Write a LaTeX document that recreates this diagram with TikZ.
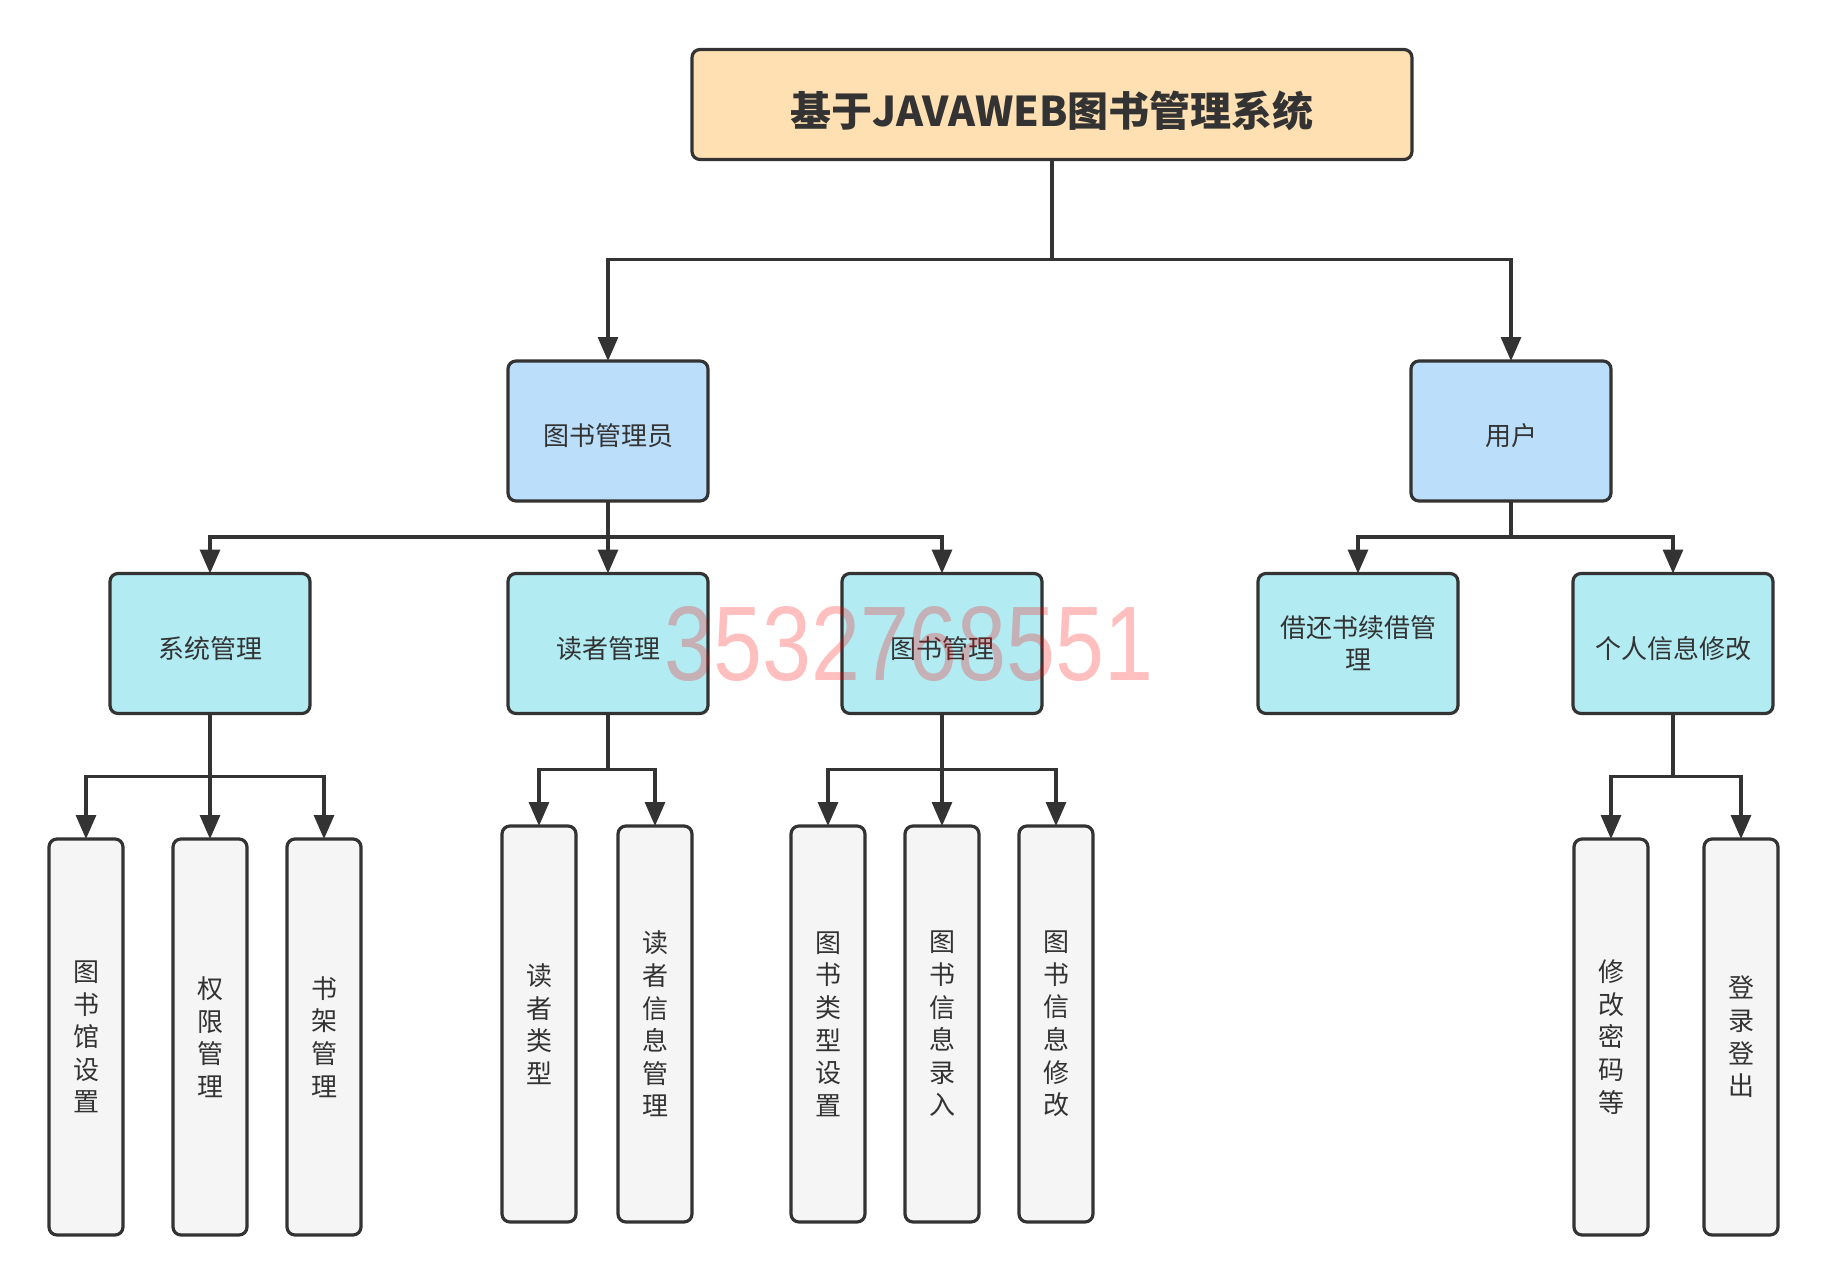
\documentclass[tikz,border=0pt]{standalone}
\usepackage{fontspec}
\usepackage{graphicx}
\setmainfont{Noto Sans CJK SC}
\newfontfamily\markfont{Liberation Sans}
\usetikzlibrary{arrows.meta, positioning}
\definecolor{InkDark}{HTML}{333333}
\definecolor{TitleSand}{HTML}{FFE0B2}
\definecolor{RoleBlue}{HTML}{BBDEFB}
\definecolor{ModCyan}{HTML}{B2EBF2}
\definecolor{LeafGray}{HTML}{F5F5F5}

\tikzset{
  box/.style={draw=InkDark, line width=1.6pt, rounded corners=4pt, text=InkDark, align=center, inner sep=0pt, outer sep=0pt,
    execute at begin node={\rule{0pt}{16pt}}},
  titlebox/.style={box, fill=TitleSand, minimum width=360pt, minimum height=55pt, font=\fontsize{20.5}{24}\selectfont\bfseries,
    execute at begin node={\rule{0pt}{24.5pt}}},
  rolebox/.style={box, fill=RoleBlue, minimum width=100pt, minimum height=70pt, font=\fontsize{13}{16}\selectfont},
  modbox/.style={box, fill=ModCyan, minimum width=100pt, minimum height=70pt, font=\fontsize{13}{16}\selectfont},
  leafbox/.style={box, fill=LeafGray, minimum width=37pt, minimum height=198pt, font=\fontsize{13}{16.3}\selectfont},
  link/.style={draw=InkDark, line width=1.6pt, -{Triangle[length=12pt, width=10pt]}}
}

\begin{document}
\begin{tikzpicture}[x=0.5pt, y=-0.5pt]
  \useasboundingbox (0,0) rectangle (1828,1286);

  % top
  \node[titlebox] (title) at (1052,104.5) {基于JAVAWEB图书管理系统};

  % roles
  \node[rolebox] (admin) at (608,431) {图书管理员};
  \node[rolebox] (user) at (1511,431) {用户};

  % modules
  \node[modbox] (sysm) at (210,643.5) {系统管理};
  \node[modbox] (readm) at (608,643.5) {读者管理};
  \node[modbox] (bookm) at (942,643.5) {图书管理};
  \node[modbox] (borrow) at (1358,643.5) {借还书续借管\\理};
  \node[modbox] (selfm) at (1673,643.5) {个人信息修改};

  % leaves
  \node[leafbox] (libset) at (86,1037) {图\\书\\馆\\设\\置};
  \node[leafbox, right=25pt of libset] (perm) {权\\限\\管\\理};
  \node[leafbox, right=20pt of perm] (shelf) {书\\架\\管\\理};

  \node[leafbox] (rtype) at (539,1024) {读\\者\\类\\型};
  \node[leafbox, right=21pt of rtype] (rinfo) {读\\者\\信\\息\\管\\理};

  \node[leafbox] (btype) at (828,1024) {图\\书\\类\\型\\设\\置};
  \node[leafbox, right=20pt of btype] (binput) {图\\书\\信\\息\\录\\入};
  \node[leafbox, right=20pt of binput] (bedit) {图\\书\\信\\息\\修\\改};

  \node[leafbox] (pwd) at (1611,1037) {修\\改\\密\\码\\等};
  \node[leafbox, right=28pt of pwd] (logio) {登\\录\\登\\出};

  % connectors
  \draw[link] (title.south) -- ++(0,-50pt) -| (admin.north);
  \draw[link] (title.south) -- ++(0,-50pt) -| (user.north);

  \draw[link] (admin.south) -- ++(0,-18pt) -| (sysm.north);
  \draw[link] (admin.south) -- (readm.north);
  \draw[link] (admin.south) -- ++(0,-18pt) -| (bookm.north);
  \draw[link] (user.south) -- ++(0,-18pt) -| (borrow.north);
  \draw[link] (user.south) -- ++(0,-18pt) -| (selfm.north);

  \draw[link] (sysm.south) -- ++(0,-31.5pt) -| (libset.north);
  \draw[link] (sysm.south) -- (perm.north);
  \draw[link] (sysm.south) -- ++(0,-31.5pt) -| (shelf.north);

  \draw[link] (readm.south) -- ++(0,-28pt) -| (rtype.north);
  \draw[link] (readm.south) -- ++(0,-28pt) -| (rinfo.north);

  \draw[link] (bookm.south) -- ++(0,-28pt) -| (btype.north);
  \draw[link] (bookm.south) -- (binput.north);
  \draw[link] (bookm.south) -- ++(0,-28pt) -| (bedit.north);

  \draw[link] (selfm.south) -- ++(0,-31.5pt) -| (pwd.north);
  \draw[link] (selfm.south) -- ++(0,-31.5pt) -| (logio.north);

  % watermark
  \node[text=red, text opacity=0.25, font=\markfont\fontsize{53}{53}\selectfont] (mark) at (909,644) {\scalebox{0.83}[1]{3532768551}};
\end{tikzpicture}
\end{document}
